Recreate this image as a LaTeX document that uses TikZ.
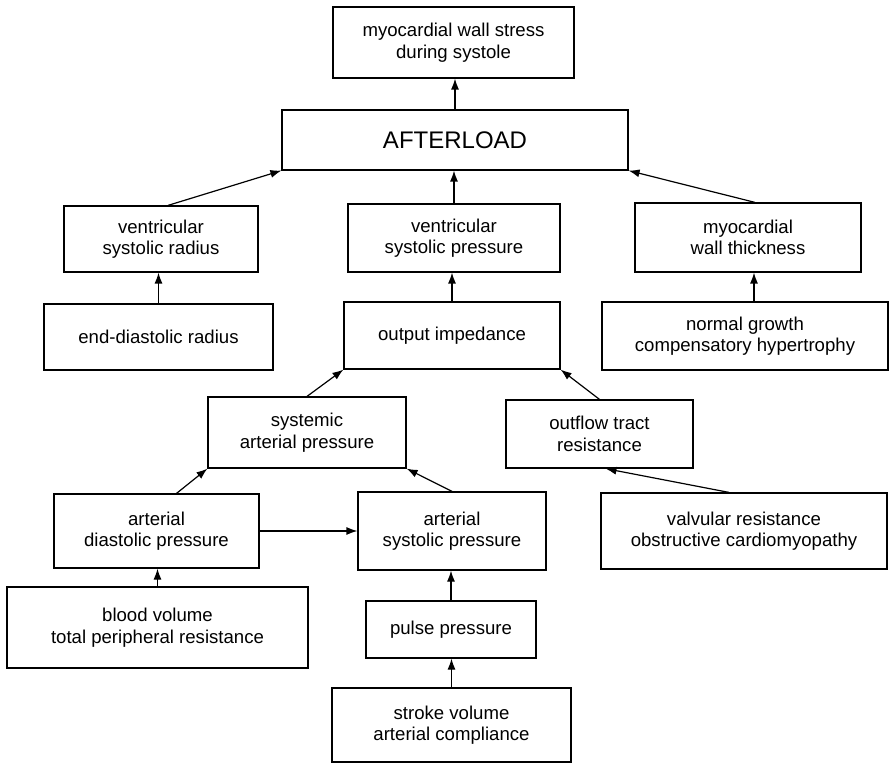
\documentclass[tikz,border=0pt]{standalone}
\usepackage{fontspec}
\setmainfont{Liberation Sans}
\usetikzlibrary{arrows.meta}
\tikzset{
  >={Latex[length=5.5pt,width=4pt]},
}
\tikzstyle{box}=[draw,line width=0.6pt,align=center,inner sep=0pt,font=\fontsize{9.3}{10.8}\selectfont]
\tikzstyle{link}=[line width=0.6pt,->]

\begin{document}
\begin{tikzpicture}[x=0.5pt,y=-0.5pt]
  \useasboundingbox (0,0) rectangle (889,764);
  % top
  \node[box,minimum width=120.5pt,minimum height=35.5pt] (stress) at (453.5,42.5) {myocardial wall stress\\during systole};
  \node[box,minimum width=173pt,minimum height=30pt,font=\fontsize{12}{14}\selectfont] (afterload) at (455,140) {AFTERLOAD};
  % second row
  \node[box,minimum width=97pt,minimum height=33pt] (radius) at (161,239) {ventricular\\systolic radius};
  \node[box,minimum width=106pt,minimum height=34pt] (vpress) at (454,238) {ventricular\\systolic pressure};
  \node[box,minimum width=113pt,minimum height=34.5pt] (thick) at (748,237.5) {myocardial\\wall thickness};
  % third row
  \node[box,minimum width=114.5pt,minimum height=33pt] (edradius) at (158.5,337) {end-diastolic radius};
  \node[box,minimum width=108pt,minimum height=33.5pt] (impedance) at (452,335.5) {output impedance};
  \node[box,minimum width=143pt,minimum height=34pt] (growth) at (745,336) {normal growth\\compensatory hypertrophy};
  % fourth row
  \node[box,minimum width=99pt,minimum height=35.5pt] (sysart) at (307,432.5) {systemic\\arterial pressure};
  \node[box,minimum width=93.5pt,minimum height=34pt] (outflow) at (599.5,434) {outflow tract\\resistance};
  % fifth row
  \node[box,minimum width=102.5pt,minimum height=37pt] (diast) at (156.5,531) {arterial\\diastolic pressure};
  \node[box,minimum width=94pt,minimum height=39pt] (syst) at (452,531) {arterial\\systolic pressure};
  \node[box,minimum width=143pt,minimum height=38pt] (valvular) at (744,531) {valvular resistance\\obstructive cardiomyopathy};
  % bottom
  \node[box,minimum width=150.5pt,minimum height=40.5pt] (volume) at (157.5,627.5) {blood volume\\total peripheral resistance};
  \node[box,minimum width=85pt,minimum height=28.5pt] (pulse) at (451,629.5) {pulse pressure};
  \node[box,minimum width=119.5pt,minimum height=37pt] (stroke) at (451.5,725) {stroke volume\\arterial compliance};

  % arrows
  \draw[link] (afterload.north) -- (afterload.north |- stress.south);
  \draw[link] ([xshift=3.5pt]radius.north) -- (afterload.south west);
  \draw[link] (vpress.north) -- (vpress.north |- afterload.south);
  \draw[link] ([xshift=3.5pt]thick.north) -- (afterload.south east);
  \draw[link] (edradius.north) -- (edradius.north |- radius.south);
  \draw[link] (impedance.north) -- (impedance.north |- vpress.south);
  \draw[link] ([xshift=4.5pt]growth.north) -- ([xshift=4.5pt]growth.north |- thick.south);
  \draw[link] (sysart.north) -- (impedance.south west);
  \draw[link] (outflow.north) -- (impedance.south east);
  \draw[link] ([xshift=10pt]diast.north) -- (sysart.south west);
  \draw[link] (syst.north) -- (sysart.south east);
  \draw[link] (diast.east) -- (syst.west);
  \draw[link] ([xshift=-7.5pt]valvular.north) -- ([xshift=3pt]outflow.south);
  \draw[link] (volume.north) -- (volume.north |- diast.south);
  \draw[link] (pulse.north) -- (pulse.north |- syst.south);
  \draw[link] (stroke.north) -- (stroke.north |- pulse.south);
\end{tikzpicture}
\end{document}
